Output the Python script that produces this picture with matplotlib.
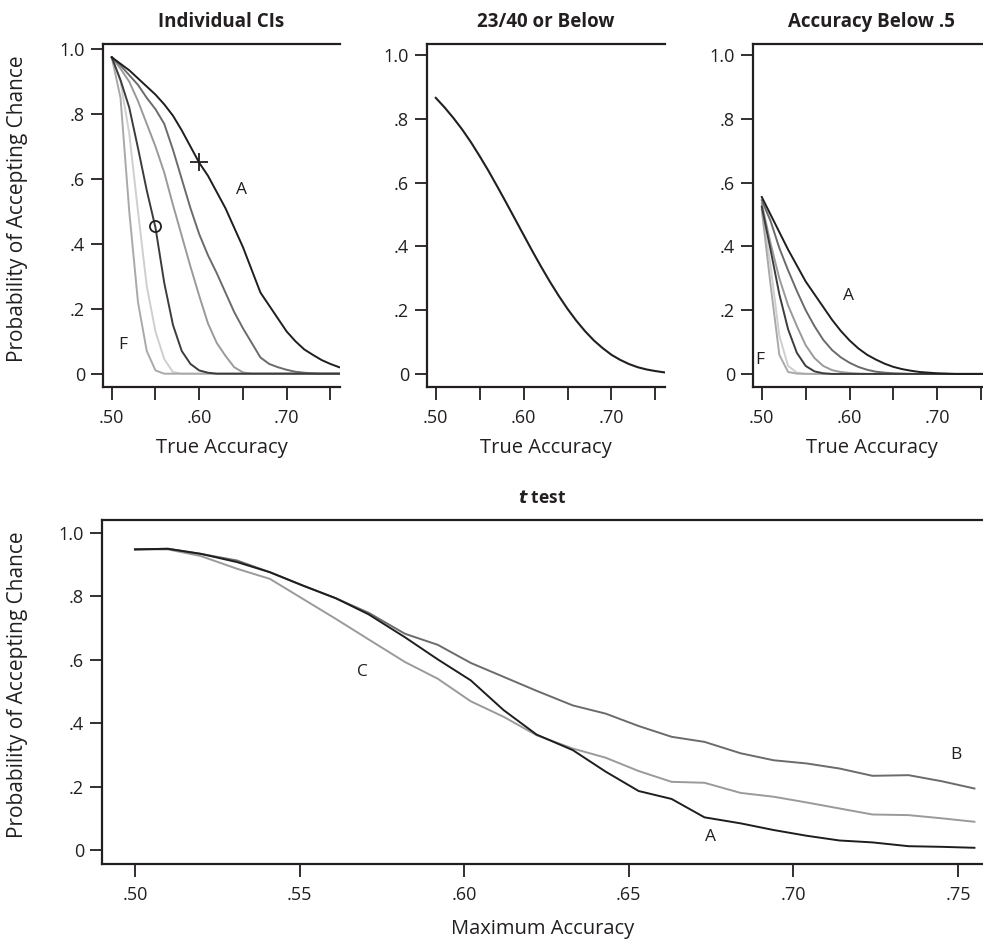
import matplotlib
matplotlib.use("Agg")
import matplotlib.pyplot as plt

plt.rcParams['font.family'] = ['Open Sans', 'DejaVu Sans']

# ---- data ----
true_acc = [.50, .51, .52, .53, .54, .55, .56, .57, .58, .59, .60, .61, .62, .63,
            .64, .65, .66, .67, .68, .69, .70, .71, .72, .73, .74, .75, .76]

# Individual CIs, curves A..F
ci_A = [.975, .955, .935, .91, .885, .86, .83, .795, .75, .70, .65, .61, .56, .51,
        .45, .39, .32, .25, .21, .17, .13, .10, .075, .058, .042, .03, .02]
ci_B = [.975, .95, .92, .89, .85, .815, .77, .69, .60, .51, .43, .365, .31, .25,
        .19, .14, .095, .05, .03, .02, .012, .006, .003, .001, 0, 0, 0]
ci_C = [.975, .94, .90, .84, .77, .70, .62, .52, .425, .33, .24, .155, .095, .055,
        .02, .004, 0, 0, 0, 0, 0, 0, 0, 0, 0, 0, 0]
ci_D = [.975, .905, .82, .695, .565, .45, .28, .15, .07, .03, .01, .003, 0, 0,
        0, 0, 0, 0, 0, 0, 0, 0, 0, 0, 0, 0, 0]
ci_E = [.975, .90, .74, .50, .27, .13, .045, .005, 0, 0, 0, 0, 0, 0,
        0, 0, 0, 0, 0, 0, 0, 0, 0, 0, 0, 0, 0]
ci_F = [.975, .85, .50, .22, .07, .01, 0, 0, 0, 0, 0, 0, 0, 0,
        0, 0, 0, 0, 0, 0, 0, 0, 0, 0, 0, 0, 0]

# 23/40 or below
below23 = [.866, .836, .803, .767, .727, .683, .637, .588, .538, .487, .436, .385, .336, .289,
           .245, .204, .167, .134, .105, .081, .060, .044, .031, .021, .014, .009, .005]

# Accuracy below .5, curves A..F
bl_A = [.555, .50, .445, .39, .34, .29, .25, .21, .17, .135, .105, .08, .06, .045,
        .032, .022, .015, .01, .006, .004, .002, .001, 0, 0, 0, 0, 0]
bl_B = [.545, .48, .395, .325, .26, .20, .15, .107, .075, .052, .035, .022, .013, .007,
        .004, .002, .001, 0, 0, 0, 0, 0, 0, 0, 0, 0, 0]
bl_C = [.535, .41, .30, .215, .15, .09, .05, .025, .012, .006, .003, .001, 0, 0,
        0, 0, 0, 0, 0, 0, 0, 0, 0, 0, 0, 0, 0]
bl_D = [.525, .39, .25, .14, .066, .025, .008, .002, 0, 0, 0, 0, 0, 0,
        0, 0, 0, 0, 0, 0, 0, 0, 0, 0, 0, 0, 0]
bl_E = [.52, .34, .12, .025, .004, .001, 0, 0, 0, 0, 0, 0, 0, 0,
        0, 0, 0, 0, 0, 0, 0, 0, 0, 0, 0, 0, 0]
bl_F = [.515, .28, .06, .006, .001, 0, 0, 0, 0, 0, 0, 0, 0, 0,
        0, 0, 0, 0, 0, 0, 0, 0, 0, 0, 0, 0, 0]

# t test
max_acc = [.500, .510, .520, .531, .541, .551, .561, .571, .582, .592, .602, .612, .622,
           .633, .643, .653, .663, .673, .684, .694, .704, .714, .724, .735, .745, .755]
tt_A = [.948, .950, .934, .908, .876, .834, .794, .743, .671, .601, .535, .441, .364,
        .315, .247, .186, .161, .103, .084, .063, .045, .030, .024, .012, .010, .007]
tt_B = [.948, .950, .934, .913, .876, .834, .794, .748, .682, .647, .590, .546, .502,
        .456, .430, .391, .357, .341, .305, .283, .273, .257, .234, .236, .217, .194]
tt_C = [.948, .948, .927, .887, .855, .792, .729, .664, .593, .540, .469, .420, .362,
        .320, .291, .249, .215, .212, .180, .168, .150, .131, .112, .110, .100, .089]

y_ticks = [0, .2, .4, .6, .8, 1.0]
y_labels = ['0', '.2', '.4', '.6', '.8', '1.0']
top_xticks = [.50, .55, .60, .65, .70, .75]
top_xlabels = ['.50', '', '.60', '', '.70', '']
bot_xlabels = ['.50', '.55', '.60', '.65', '.70', '.75']

ink = '#231f20'
greys = {'A': '#1e1e1e', 'B': '#6b6b6b', 'C': '#9a9a9a',
         'D': '#3c3c3c', 'E': '#cfcfcf', 'F': '#a9a9a9'}
draw_order = ['E', 'F', 'C', 'B', 'D', 'A']

fig = plt.figure(figsize=(9.83, 9.4), dpi=100)


def style_axes(ax, xticks, xlabels, ylim):
    ax.spines['right'].set_visible(False)
    for s in ['left', 'top', 'bottom']:
        ax.spines[s].set_linewidth(1.6)
        ax.spines[s].set_color(ink)
    ax.set_ylim(*ylim)
    ax.set_yticks(y_ticks)
    ax.set_yticklabels(y_labels)
    ax.set_xticks(xticks)
    ax.set_xticklabels(xlabels)
    ax.tick_params(length=9, width=1.3, color=ink, labelsize=13, labelcolor=ink)
    ax.tick_params(axis='x', pad=7)
    ax.tick_params(axis='y', pad=4)


# panel 1
ax1 = fig.add_axes([0.1048, 0.5883, 0.2411, 0.3649])
ci = {'A': ci_A, 'B': ci_B, 'C': ci_C, 'D': ci_D, 'E': ci_E, 'F': ci_F}
for k in draw_order:
    ax1.plot(true_acc, ci[k], color=greys[k], lw=1.4)
ax1.plot([.60], [.652], marker='+', ms=13, mew=1.3, color=ink)
ax1.plot([.549], [.455], marker='o', ms=8, mew=1.3, mfc='none', color=ink)
ax1.text(.648, .566, 'A', fontsize=12.5, ha='center', va='center', color=ink)
ax1.text(.512, .087, 'F', fontsize=12.5, ha='center', va='center', color=ink)
ax1.set_xlim(.49, .761)
style_axes(ax1, top_xticks, top_xlabels, (-.041, 1.016))
ax1.set_title('Individual CIs', fontsize=13.5, fontweight='bold', pad=12, color=ink)
ax1.set_xlabel('True Accuracy', fontsize=14.5, color=ink, labelpad=8)
ax1.set_ylabel('Probability of Accepting Chance', fontsize=15, color=ink)
ax1.yaxis.set_label_coords(-0.318, 0.52)

# panel 2
ax2 = fig.add_axes([0.4344, 0.5883, 0.2421, 0.3649])
ax2.plot(true_acc, below23, color=ink, lw=1.5)
ax2.set_xlim(.49, .761)
style_axes(ax2, top_xticks, top_xlabels, (-.041, 1.035))
ax2.set_title('23/40 or Below', fontsize=13.5, fontweight='bold', pad=12, color=ink)
ax2.set_xlabel('True Accuracy', fontsize=14.5, color=ink, labelpad=8)

# panel 3
ax3 = fig.add_axes([0.766, 0.5883, 0.2421, 0.3649])
bl = {'A': bl_A, 'B': bl_B, 'C': bl_C, 'D': bl_D, 'E': bl_E, 'F': bl_F}
for k in draw_order:
    ax3.plot(true_acc, bl[k], color=greys[k], lw=1.4)
ax3.text(.599, .243, 'A', fontsize=12.5, ha='center', va='center', color=ink)
ax3.text(.498, .045, 'F', fontsize=12.5, ha='center', va='center', color=ink)
ax3.set_xlim(.49, .761)
style_axes(ax3, top_xticks, top_xlabels, (-.041, 1.035))
ax3.set_title('Accuracy Below .5', fontsize=13.5, fontweight='bold', pad=12, color=ink)
ax3.set_xlabel('True Accuracy', fontsize=14.5, color=ink, labelpad=8)

# bottom panel
ax4 = fig.add_axes([0.1038, 0.0809, 0.8962, 0.366])
ax4.plot(max_acc, tt_C, color=greys['C'], lw=1.4)
ax4.plot(max_acc, tt_B, color=greys['B'], lw=1.4)
ax4.plot(max_acc, tt_A, color=greys['A'], lw=1.4)
ax4.text(.569, .56, 'C', fontsize=12.5, ha='center', va='center', color=ink)
ax4.text(.7495, .301, 'B', fontsize=12.5, ha='center', va='center', color=ink)
ax4.text(.6748, .042, 'A', fontsize=12.5, ha='center', va='center', color=ink)
ax4.set_xlim(.49, .7576)
style_axes(ax4, [.50, .55, .60, .65, .70, .75], bot_xlabels, (-.044, 1.041))
ax4.set_title(r'$\boldsymbol{t}$ test', fontsize=12.5, fontweight='bold', pad=12, color=ink)
ax4.set_xlabel('Maximum Accuracy', fontsize=14.5, color=ink, labelpad=11)
ax4.set_ylabel('Probability of Accepting Chance', fontsize=15, color=ink)
ax4.yaxis.set_label_coords(-0.084, 0.52)

fig.savefig('out.png', dpi=100)
